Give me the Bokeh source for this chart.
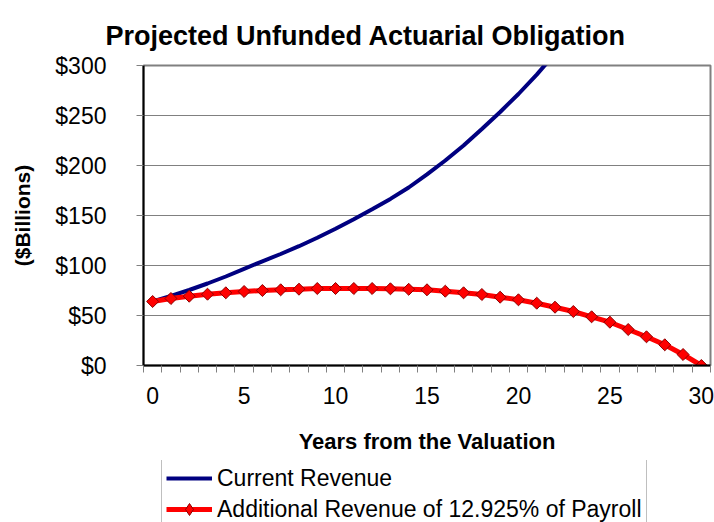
from bokeh.plotting import figure
from bokeh.layouts import column
from bokeh.models import (FixedTicker, Range1d, Legend, LegendItem, ColumnDataSource)
from bokeh.embed import file_html
from bokeh.resources import INLINE
import math

# ---- data ----
years = list(range(0, 31))
current_years = list(range(0, 23))
current_revenue = [64.0, 69.5, 75.5, 82.0, 89.0, 96.7, 104.2, 111.5, 119.3, 127.7,
                   136.7, 146.3, 156.2, 166.6, 178.0, 191.2, 205.0, 220.0, 236.5,
                   253.5, 271.5, 290.9, 312.0]
additional_revenue = [64.0, 67.0, 69.3, 71.3, 72.7, 74.0, 75.0, 75.7, 76.3, 77.0,
                      77.0, 77.0, 77.0, 76.7, 76.2, 75.7, 74.3, 72.7, 71.0, 68.3,
                      65.7, 62.3, 58.3, 54.0, 48.7, 43.3, 36.0, 28.7, 20.7, 11.0, 0.0]
x_tick_values = [0, 5, 10, 15, 20, 25, 30]
y_tick_values = [0, 50, 100, 150, 200, 250, 300]
y_tick_labels = ["$0", "$50", "$100", "$150", "$200", "$250", "$300"]
series_names = ["Current Revenue", "Additional Revenue of 12.925% of Payroll"]
title_text = "Projected Unfunded Actuarial Obligation"
x_label = "Years from the Valuation"
y_label = "($Billions)"

FONT = "Liberation Sans"
BLUE = "#000080"
RED = "#FF0000"
DARKRED = "#8B0000"

p = figure(width=714, height=460, output_backend="svg", toolbar_location=None,
           x_range=Range1d(-0.5, 30.5), y_range=Range1d(0, 300),
           min_border_left=143, min_border_right=4, min_border_top=65,
           min_border_bottom=95)

p.background_fill_color = "white"
p.border_fill_color = "white"
p.outline_line_color = "#808080"
p.outline_line_width = 2

# title
p.title.text = title_text
p.title.text_font = FONT
p.title.text_font_size = "27px"
p.title.text_font_style = "bold"
p.title.text_color = "black"
p.title.align = "left"
p.title.offset = -38
p.title.standoff = 30

# grids
p.xgrid.visible = False
p.ygrid.ticker = FixedTicker(ticks=y_tick_values)
p.ygrid.grid_line_color = "#808080"
p.ygrid.grid_line_width = 1

# y axis
ya = p.yaxis[0]
ya.ticker = FixedTicker(ticks=y_tick_values)
ya.major_label_overrides = {v: l for v, l in zip(y_tick_values, y_tick_labels)}
ya.major_label_text_font = FONT
ya.major_label_text_font_size = "23px"
ya.major_label_text_color = "black"
ya.major_label_standoff = 30
ya.major_tick_out = 7
ya.major_tick_in = 0
ya.minor_tick_out = 0
ya.minor_tick_in = 0
ya.major_tick_line_color = "#808080"
ya.axis_line_color = "black"
ya.axis_line_width = 2
ya.axis_label = y_label
ya.axis_label_text_font = FONT
ya.axis_label_text_font_size = "21px"
ya.axis_label_text_font_style = "bold"
ya.axis_label_text_color = "black"
ya.axis_label_standoff = 18

# x axis
xa = p.xaxis[0]
xa.ticker = FixedTicker(ticks=x_tick_values,
                        minor_ticks=[y - 0.5 for y in years] + [30.5])
xa.major_label_text_font = FONT
xa.major_label_text_font_size = "23px"
xa.major_label_text_color = "black"
xa.major_label_standoff = 14
xa.major_tick_out = 0
xa.major_tick_in = 0
xa.minor_tick_out = 7
xa.minor_tick_in = 0
xa.minor_tick_line_color = "#808080"
xa.axis_line_color = "black"
xa.axis_line_width = 2
xa.axis_label = x_label
xa.axis_label_text_font = FONT
xa.axis_label_text_font_size = "22px"
xa.axis_label_text_font_style = "bold"
xa.axis_label_text_color = "black"
xa.axis_label_standoff = 22

# series
src_cur = ColumnDataSource(dict(x=current_years, y=current_revenue))
src_add = ColumnDataSource(dict(x=years, y=additional_revenue))

p.line("x", "y", source=src_cur, line_color=BLUE, line_width=4)
p.line("x", "y", source=src_add, line_color=RED, line_width=5)
p.scatter("x", "y", source=src_add, marker="square", angle=math.pi / 4,
          size=8.5, fill_color=RED, line_color=DARKRED, line_width=1)

# ---- legend strip below the chart ----
q = figure(width=714, height=62, output_backend="svg", toolbar_location=None,
           x_range=Range1d(0, 1), y_range=Range1d(0, 1),
           min_border_left=0, min_border_right=0, min_border_top=0,
           min_border_bottom=0)
q.axis.visible = False
q.grid.visible = False
q.outline_line_color = None
q.background_fill_color = "white"
q.border_fill_color = "white"
# legend-only renderers, placed outside the visible range
hidden = ColumnDataSource(dict(x=[-10, -9], y=[-10, -9]))
lb = q.line("x", "y", source=hidden, line_color=BLUE, line_width=4)
lr = q.line("x", "y", source=hidden, line_color=RED, line_width=5)
lm = q.scatter("x", "y", source=hidden, marker="diamond",
               size=14, fill_color=RED, line_color=DARKRED, line_width=1)

legend = Legend(items=[LegendItem(label=series_names[0], renderers=[lb]),
                       LegendItem(label=series_names[1], renderers=[lr, lm])],
                location=(18, -7))
legend.label_text_font = FONT
legend.label_text_font_size = "23px"
legend.label_text_color = "black"
legend.glyph_width = 46
legend.glyph_height = 30
legend.label_height = 24
legend.label_standoff = 5
legend.spacing = 1
legend.padding = 4
legend.margin = 0
legend.border_line_color = "#808080"
legend.border_line_width = 1
legend.background_fill_color = "white"
legend.background_fill_alpha = 1
q.add_layout(legend, "center")

layout = column(p, q, spacing=0)
open("out.html", "w").write(file_html(layout, INLINE))
